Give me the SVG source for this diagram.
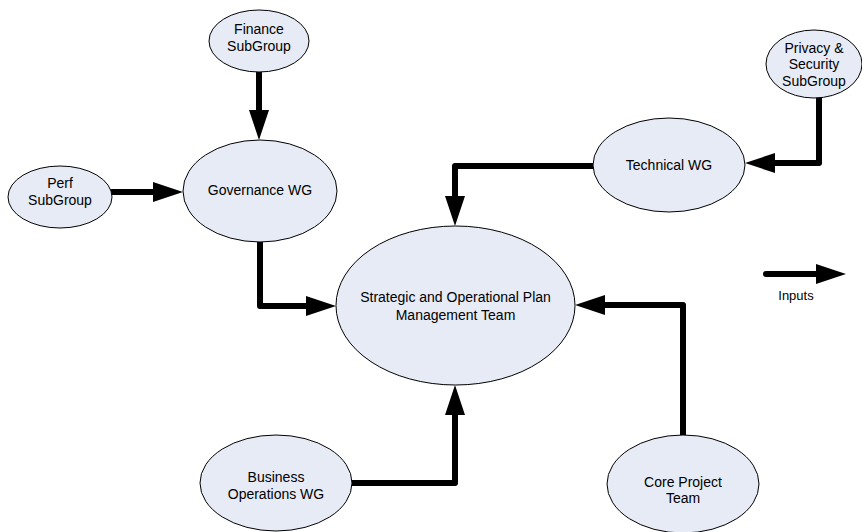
<svg xmlns="http://www.w3.org/2000/svg" width="862" height="532" viewBox="0 0 862 532">
<style>
.node ellipse{fill:#E6EBF6;stroke:#000;stroke-width:1}
.node text,.lbl{font-family:"Liberation Sans",Arial,sans-serif;font-size:14px;fill:#000;text-anchor:middle}
.conn path{fill:none;stroke:#000;stroke-width:6;stroke-linecap:round;stroke-linejoin:round;marker-end:url(#ah)}
</style>
<defs>
<marker id="ah" markerUnits="userSpaceOnUse" markerWidth="30" markerHeight="20" refX="0" refY="10" orient="auto" overflow="visible">
<path d="M0,0 L30,10 L0,20 z" fill="#000"/>
</marker>
</defs>
<rect width="862" height="532" fill="#fff"/>
<g id="connectors" class="conn">
<path d="M259,72 V110"/>
<path d="M112,192 H153"/>
<path d="M819,98 V163 H775"/>
<path d="M593,166 H455 V196"/>
<path d="M260,242 V306 H306"/>
<path d="M352,483 H455 V415"/>
<path d="M683,435 V305 H605"/>
<path d="M766,274 H816"/>
</g>
<g id="finance" class="node"><ellipse cx="259" cy="41" rx="50" ry="31"/><text x="259" y="34">Finance</text><text x="259" y="51">SubGroup</text></g>
<g id="perf" class="node"><ellipse cx="60" cy="197" rx="52" ry="31"/><text x="60" y="188">Perf</text><text x="60" y="205">SubGroup</text></g>
<g id="governance" class="node"><ellipse cx="260" cy="191" rx="77" ry="51"/><text x="260" y="195">Governance WG</text></g>
<g id="privacy" class="node"><ellipse cx="814" cy="64" rx="48" ry="34"/><text x="814" y="53">Privacy &amp;</text><text x="814" y="69">Security</text><text x="814" y="86">SubGroup</text></g>
<g id="technical" class="node"><ellipse cx="669" cy="165" rx="76" ry="47"/><text x="669" y="170">Technical WG</text></g>
<g id="strategic" class="node"><ellipse cx="455.5" cy="305.5" rx="119.5" ry="79.5"/><text x="455.5" y="302">Strategic and Operational Plan</text><text x="455.5" y="320">Management Team</text></g>
<g id="business" class="node"><ellipse cx="276" cy="483" rx="76" ry="48"/><text x="276" y="482">Business</text><text x="276" y="499">Operations WG</text></g>
<g id="core" class="node"><ellipse cx="683" cy="484" rx="76" ry="49"/><text x="683" y="487">Core Project</text><text x="683" y="503">Team</text></g>
<text id="legend" class="lbl" x="796" y="300" style="font-size:13px">Inputs</text>
</svg>
